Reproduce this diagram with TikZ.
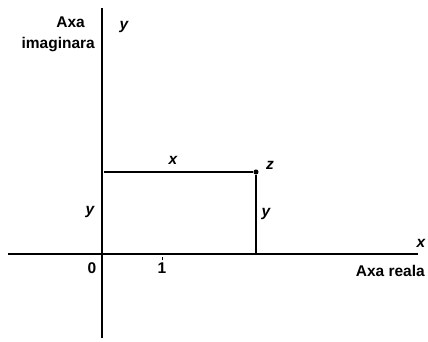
\documentclass[tikz,border=0pt]{standalone}
\usepackage{fontspec}
\setmainfont{Liberation Sans}
\begin{document}
\begin{tikzpicture}[x=1pt,y=-1pt,
		lbl/.style={font=\fontsize{15.5}{17}\selectfont\bfseries, inner sep=1pt},
		var/.style={font=\fontsize{15.5}{17}\selectfont\bfseries\itshape, inner sep=1pt},
		axis/.style={line width=1.8pt},
		edge/.style={line width=1.3pt}]
		\useasboundingbox (0,0) rectangle (428,341);
		% axes
		\coordinate (xl) at (8,254);
		\coordinate (xr) at (418,254);
		\coordinate (yb) at (102,338);
		\coordinate (yt) at (102,8);
		\draw[axis] (xl) -- (xr);
		\draw[axis] (yb) -- (yt);
		% point z and its projections
		\coordinate (zy) at (104,172);
		\coordinate (zx) at (256,254);
		\node[circle, fill, inner sep=1.8pt] (z) at (256,172) {};
		\draw[edge] (zy) -- (z);
		\draw[edge] (z) -- (zx);
		% labels
		\node[var] (lx) at (173,160) {x};
		\node[var] (lz) at (270,165) {z};
		\node[var] (lyl) at (90,212) {y};
		\node[var] (lyr) at (266,214) {y};
		\node[lbl] (l0) at (92,268) {0};
		\node[lbl] (l1) at (162,268) {1};
		\draw (l1.north) ++(0,-1) -- ++(0,-3);
		\node[var] (xend) at (421,243) {x};
		\node[lbl, anchor=east] (re) at (426,271) {Axa reala};
		\node[lbl, anchor=east] (im1) at (86,22) {Axa};
		\node[lbl, anchor=east] (im2) at (96,45) {imaginara};
		\node[var] (yend) at (124,27) {y};
	\end{tikzpicture}
\end{document}
